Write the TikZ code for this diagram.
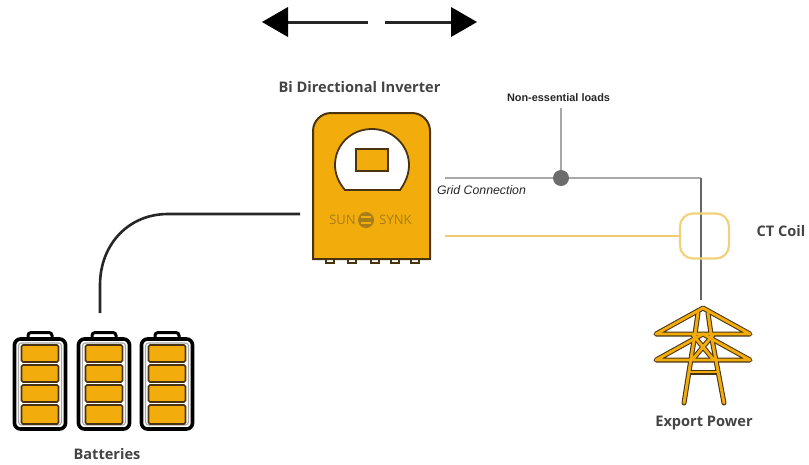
\documentclass[tikz,border=0pt]{standalone}
\usepackage{fontspec}
\setmainfont{Open Sans}
\newfontfamily\arialf{Liberation Sans}
\definecolor{amber}{HTML}{F2AC0C}
\definecolor{darkbrown}{HTML}{4A3410}
\definecolor{cablegrey}{HTML}{A8A8A8}
\definecolor{coil}{HTML}{EFD27A}
\definecolor{logo}{HTML}{A67E18}
\definecolor{labelc}{HTML}{444444}
\tikzset{
  lbl/.style={font=\fontsize{14.6}{16}\selectfont\bfseries, text=labelc, inner sep=0pt},
  cell/.style={fill=amber, draw=darkbrown, line width=1.7pt, rounded corners=1.5pt},
  shell/.style={draw=black, line width=3.6pt, fill=white, rounded corners=6pt},
  arrowline/.style={draw=black!85, line width=3pt},
  arrowhead/.style={fill=black, draw=none},
  greycable/.style={draw=cablegrey, line width=2.2pt},
  towerbar/.style={draw=darkbrown, line width=5pt, line cap=round, line join=round},
  towerfill/.style={draw=amber, line width=2.9pt, line cap=round, line join=round},
  logotext/.style={inner sep=0pt, text=logo, font=\fontsize{13}{15}\selectfont}
}
\newcommand{\batteryat}[1]{%
  \begin{scope}[shift={(#1,0)}]
    \draw[black, line width=3pt, fill=white, rounded corners=3pt] (15,342) -- (15,332.5) -- (39,332.5) -- (39,342);
    \draw[shell] (1.5,339) rectangle (52.5,429);
    \draw[cablegrey, line width=1.1pt, rounded corners=3pt] (5.5,343) rectangle (48.5,425);
    \foreach \ya/\yb in {345/362,365/382,385/402,405/424}
      \draw[cell] (8.5,\ya) rectangle (45.5,\yb);
  \end{scope}}
\newcommand{\towerlines}[1]{%
  \draw[#1] (656,334) -- (703,308) -- (750,334) -- cycle;
  \draw[#1] (656,360) -- (703,334) -- (750,360) -- cycle;
  \draw[#1] (695,334) -- (698,313) (711,334) -- (708,313);
  \draw[#1] (693,335) -- (713,359) (713,335) -- (693,359);
  \draw[#1] (695,334) -- (684,403) (711,334) -- (724,403);
  \draw[#1] (690,372) -- (718,372);
}
\begin{document}
\begin{tikzpicture}[x=1pt,y=-1pt]
\useasboundingbox (0,0) rectangle (809,464);
% direction arrows
\coordinate (lstart) at (368,22);
\coordinate (lend) at (285,22);
\coordinate (rstart) at (385,22);
\coordinate (rend) at (454,22);
\draw[arrowline] (lstart) -- (lend);
\draw[arrowline] (rstart) -- (rend);
\fill[arrowhead] (262,22) -- (288,7) -- (288,37) -- cycle;
\fill[arrowhead] (477,22) -- (451,7) -- (451,37) -- cycle;
% inverter
\node[lbl] (title) at (359.5,87) {Bi Directional Inverter};
\foreach \x in {330,352,375,395,415}
  \draw[darkbrown, line width=1.4pt, fill=white] (\x-4,256) rectangle (\x+4,263);
\draw[darkbrown, line width=2pt, fill=amber] (313,259) -- (313,131) arc[start angle=180, end angle=270, x radius=18pt, y radius=-18pt] -- (412,113) arc[start angle=270, end angle=360, x radius=18pt, y radius=-18pt] -- (430,259) -- cycle;
\draw[darkbrown, line width=1.8pt, fill=white] (345,190) -- (400,190) .. controls (406,182) and (409,173) .. (409,165) .. controls (409,145) and (392,129) .. (372,129) .. controls (351,129) and (335,145) .. (335,165) .. controls (335,173) and (338,182) .. (345,190) -- cycle;
\draw[darkbrown, line width=1.9pt, fill=amber] (356,149) rectangle (388,171);
\node[logotext] (sun) at (342.5,220) {SUN};
\node[logotext] (synk) at (395.5,220) {SYNK};
\node[circle, fill=logo, inner sep=0pt, minimum size=16pt] (hex) at (366,220) {};
\draw[amber, line width=1.2pt] (361,217) -- (371,217) (361,223) -- (371,223);
% batteries
\batteryat{13}
\batteryat{77}
\batteryat{140}
\node[lbl] (batt) at (107,454) {Batteries};
% cable to batteries
\coordinate (batttop) at (100,313);
\coordinate (invleft) at (300,214);
\draw[black!85, line width=2.6pt] (invleft) -- (168,214) .. controls (128,214) and (100,245) .. (100,285) -- (batttop);
% grid
\coordinate (gridstart) at (445,178);
\coordinate (corner) at (701,178);
\coordinate (towertop) at (701,300);
\coordinate (loadtop) at (561,108);
\node[circle, fill=gray!85!black, inner sep=0pt, minimum size=16pt] (junction) at (561,178) {};
\draw[greycable] (gridstart) -- (junction);
\draw[greycable] (junction) -- (corner);
\draw[greycable] (loadtop) -- (junction);
\draw[gray!80!black, line width=1.3pt] (corner) -- (towertop);
\node[inner sep=0pt, font=\arialf\fontsize{10.9}{12}\selectfont\bfseries, text=black!85] (loads) at (558.5,97.5) {Non-essential loads};
\node[inner sep=0pt, font=\arialf\fontsize{12.3}{14}\selectfont\itshape, text=black!85] (grid) at (481.5,190) {Grid Connection};
% CT coil
\node[draw=coil, line width=2.2pt, rounded corners=13pt, minimum width=49pt, minimum height=45pt, inner sep=0pt] (ct) at (704.5,236) {};
\coordinate (ctfeed) at (445,236);
\draw[coil!90!orange, line width=2.2pt] (ctfeed) -- (ct.west);
\node[lbl] (ctl) at (781,231) {CT Coil};
% tower
\towerlines{towerbar}
\towerlines{towerfill}
\node[lbl] (exp) at (704,423) {Export Power};
\end{tikzpicture}
\end{document}
